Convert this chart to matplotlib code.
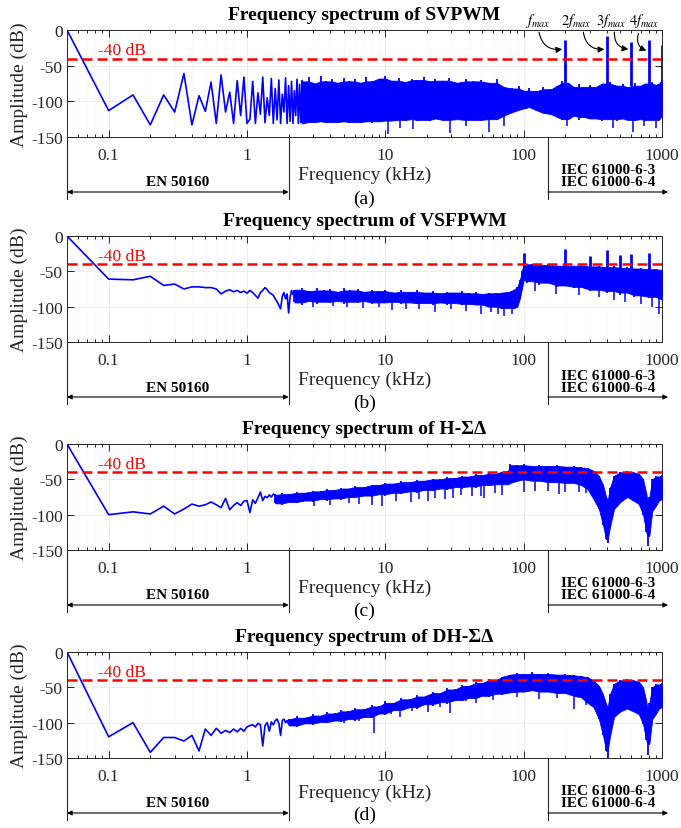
import matplotlib
matplotlib.use('Agg')
import numpy as np
import matplotlib.pyplot as plt
import matplotlib.transforms as mtransforms
from matplotlib.ticker import LogLocator, NullFormatter

plt.rcParams['font.family'] = ['Liberation Serif', 'DejaVu Serif']
plt.rcParams['mathtext.fontset'] = 'stix'
plt.rcParams['axes.unicode_minus'] = False

# ---------------- data (frequency in kHz, amplitude in dB) ----------------
titles = ['Frequency spectrum of SVPWM', 'Frequency spectrum of VSFPWM',
          'Frequency spectrum of H-\u03a3\u0394', 'Frequency spectrum of DH-\u03a3\u0394']
sublabels = ['(a)', '(b)', '(c)', '(d)']
xtick_vals = [0.1, 1, 10, 100, 1000]
xtick_labels = ['0.1', '1', '10', '100', '1000']
ytick_vals = [-150, -100, -50, 0]
limit_db = -40

# Panel (a) SVPWM: discrete low-frequency lines
a_lf_f = [0.05, 0.10, 0.15, 0.20, 0.25, 0.30, 0.35, 0.40, 0.45, 0.50, 0.55, 0.60, 0.65, 0.70,
          0.75, 0.80, 0.85, 0.90, 0.95, 1.00, 1.05, 1.10, 1.15, 1.20, 1.25, 1.30, 1.35, 1.40,
          1.45, 1.50, 1.55, 1.60, 1.65, 1.70, 1.75, 1.80, 1.85, 1.90, 1.95, 2.00, 2.05, 2.10,
          2.15, 2.20, 2.25, 2.30, 2.35, 2.40, 2.45, 2.50]
a_lf_db = [0, -113, -91, -133, -91, -115, -61, -133, -92, -114, -73, -131, -63, -115,
           -87, -131, -71, -120, -66, -131, -125, -72, -131, -88, -118, -66, -130, -95,
           -120, -68, -131, -82, -126, -70, -131, -90, -115, -67, -131, -78, -128, -72,
           -131, -85, -120, -69, -131, -76, -130, -71]
# Panel (a) dense band envelope
a_band_f = [2.5, 2.8, 3.1, 3.4, 3.7, 4.1, 4.5, 5.0, 5.5, 6.0,
            6.6, 7.3, 8.0, 9.0, 10, 11, 12.5, 14, 15.5, 17,
            19, 21, 23, 26, 29, 33, 38, 43, 49, 56,
            64, 72, 83, 92, 100, 110, 122, 138, 158, 175,
            190, 210, 230, 250, 275, 300, 330, 370, 420, 470,
            520, 560, 640, 700, 750, 850, 900, 950, 1000]
a_band_hi = [-72, -66, -75, -64, -72, -68, -74, -67, -72, -69,
             -74, -66, -72, -68, -65, -71, -67, -73, -68, -70,
             -66, -72, -68, -71, -67, -74, -69, -72, -70, -74,
             -69, -80, -82, -79, -85, -82, -86, -80, -83, -78,
             -72, -74, -80, -76, -80, -77, -80, -75, -73, -78,
             -76, -80, -74, -78, -75, -73, -77, -75, -70]
a_band_lo = [-131, -129, -131, -128, -131, -129, -131, -128, -131, -129,
             -130, -128, -131, -128, -127, -128, -126, -128, -125, -127,
             -126, -128, -124, -127, -126, -125, -127, -126, -128, -125,
             -126, -120, -115, -112, -110, -108, -112, -116, -118, -122,
             -126, -125, -120, -126, -122, -125, -124, -127, -125, -127,
             -124, -126, -128, -125, -127, -126, -128, -126, -120]
a_spike_f = [200, 400, 600, 800, 995]
a_spike_db = [-14, -9, -17, -14, -21]
a_down_f = [10.4, 12.7, 15.9, 29.4, 38, 56, 72.6, 205, 445, 615, 746, 907]
a_down_db = [-146, -137, -139, -145, -134, -143, -134, -134, -137, -143, -134, -137]

# Panel (b) VSFPWM
b_lf_f = [0.05, 0.10, 0.15, 0.20, 0.25, 0.30, 0.35, 0.40, 0.45, 0.50, 0.55, 0.60, 0.65, 0.70,
          0.75, 0.80, 0.85, 0.90, 0.95, 1.00, 1.05, 1.10, 1.15, 1.20, 1.25, 1.30, 1.35, 1.40,
          1.45, 1.50, 1.55, 1.60, 1.65, 1.70, 1.75, 1.80, 1.85, 1.90, 1.95, 2.00, 2.05, 2.10,
          2.15, 2.20]
b_lf_db = [0, -61, -62, -57, -70, -68, -75, -72, -72, -73, -73, -75, -82, -78,
           -76, -79, -77, -80, -78, -81, -77, -80, -84, -88, -80, -77, -73, -76,
           -80, -82, -84, -89, -93, -98, -103, -85, -80, -89, -82, -109, -86, -77,
           -83, -78]
b_band_f = [2.2, 2.5, 2.8, 3.2, 3.6, 4.0, 4.5, 5.0, 5.6, 6.3,
            7.0, 8.0, 9.0, 10, 11.5, 13, 15, 17, 19, 22,
            25, 28, 32, 36, 40, 45, 50, 56, 63, 70,
            78, 85, 90, 94, 97, 100, 105, 115, 130, 150,
            175, 200, 230, 260, 300, 350, 400, 450, 500, 560,
            630, 700, 800, 900, 1000]
b_band_hi = [-76, -74, -78, -73, -77, -75, -79, -74, -77, -75,
             -79, -76, -78, -77, -80, -76, -79, -77, -80, -78,
             -81, -79, -80, -78, -81, -79, -82, -80, -81, -80,
             -79, -76, -72, -62, -50, -38, -40, -39, -41, -40,
             -42, -41, -42, -41, -43, -42, -44, -43, -45, -44,
             -46, -45, -47, -46, -48]
b_band_lo = [-94, -98, -92, -96, -93, -95, -92, -96, -93, -95,
             -92, -96, -94, -95, -93, -96, -94, -96, -95, -97,
             -94, -98, -95, -97, -96, -98, -97, -100, -100, -103,
             -102, -104, -100, -88, -75, -62, -66, -64, -70, -66,
             -72, -70, -74, -72, -78, -76, -80, -78, -84, -80,
             -86, -84, -88, -86, -90]
b_spike_f = [100, 200, 300, 400, 500, 600, 800]
b_spike_db = [-24, -19, -28, -20, -27, -26, -24]
b_down_f = [3.0, 4.2, 5.3, 6.9, 9.0, 11.2, 14, 17.5, 22.7, 30, 38, 49, 58, 65, 72.6, 83,
            120, 170, 250, 350, 450, 540, 700, 850, 955]
b_down_db = [-100, -99, -100, -102, -101, -105, -103, -104, -108, -104, -106, -111, -107,
             -110, -113, -110, -78, -82, -84, -86, -90, -94, -96, -100, -111]

# Panel (c) H-SigmaDelta
c_lf_f = [0.05, 0.10, 0.15, 0.20, 0.25, 0.30, 0.35, 0.40, 0.45, 0.50, 0.55, 0.60, 0.65, 0.70,
          0.75, 0.80, 0.85, 0.90, 0.95, 1.00, 1.05, 1.10, 1.15, 1.20, 1.25, 1.30, 1.35, 1.40,
          1.45, 1.50, 1.55, 1.60]
c_lf_db = [0, -100, -96, -99, -88, -99, -92, -85, -88, -86, -82, -86, -90, -77,
           -93, -87, -83, -87, -81, -80, -97, -79, -84, -76, -68, -80, -74, -76,
           -72, -75, -71, -72]
c_band_f = [1.6, 1.8, 2.0, 2.3, 2.6, 3.0, 3.4, 3.8, 4.3, 4.8,
            5.4, 6.0, 7.0, 8.0, 9.0, 10, 11.5, 13, 15, 17,
            19, 22, 25, 28, 32, 36, 40, 45, 50, 56,
            63, 70, 77, 80, 90, 100, 115, 130, 150, 175,
            200, 230, 260, 290, 320, 350, 375, 395, 405, 420,
            450, 500, 560, 620, 680, 730, 770, 790, 810, 850,
            900, 950, 1000]
c_band_hi = [-72, -70, -71, -68, -69, -66, -67, -64, -65, -62,
             -63, -60, -61, -58, -58, -55, -56, -53, -54, -51,
             -52, -49, -50, -47, -48, -45, -46, -43, -44, -41,
             -42, -39, -38, -28, -30, -29, -31, -30, -31, -30,
             -32, -31, -33, -34, -38, -45, -58, -75, -80, -62,
             -45, -40, -38, -40, -42, -50, -70, -85, -75, -50,
             -45, -46, -44]
c_band_lo = [-84, -86, -82, -84, -80, -82, -78, -80, -77, -79,
             -75, -77, -73, -75, -71, -73, -69, -71, -67, -69,
             -65, -67, -63, -65, -61, -63, -60, -62, -58, -60,
             -57, -58, -57, -55, -52, -50, -53, -52, -55, -54,
             -56, -55, -58, -64, -78, -92, -115, -135, -140, -118,
             -92, -82, -75, -80, -85, -100, -125, -145, -130, -95,
             -88, -80, -78]
c_down_f = [3.05, 4.0, 5.5, 6.5, 8.05, 9.5, 12, 15.4, 17.5, 20.3, 23, 26.8, 30.6, 35, 42,
            49, 52, 62, 70, 100, 120, 150, 180, 200, 250, 280]
c_down_db = [-88, -86, -84, -85, -86, -88, -80, -82, -78, -80, -76, -78, -77, -72, -74,
             -74, -76, -70, -72, -68, -66, -66, -71, -68, -68, -70]

# Panel (d) DH-SigmaDelta
d_lf_f = [0.05, 0.10, 0.15, 0.20, 0.25, 0.30, 0.35, 0.40, 0.45, 0.50, 0.55, 0.60, 0.65, 0.70,
          0.75, 0.80, 0.85, 0.90, 0.95, 1.00, 1.05, 1.10, 1.15, 1.20, 1.25, 1.30, 1.35, 1.40,
          1.45, 1.50, 1.55, 1.60, 1.65, 1.70, 1.75, 1.80, 1.85, 1.90, 1.95, 2.00]
d_lf_db = [0, -120, -100, -142, -121, -121, -126, -118, -140, -109, -118, -108, -115, -111,
           -114, -109, -113, -108, -112, -106, -104, -103, -106, -101, -103, -133, -104, -100,
           -112, -99, -103, -97, -95, -101, -118, -97, -95, -100, -97, -102]
d_band_f = [2.0, 2.3, 2.6, 3.0, 3.4, 3.8, 4.3, 4.8, 5.4, 6.0,
            7.0, 8.0, 9.0, 10, 11.5, 13, 15, 17, 19, 22,
            25, 28, 32, 36, 40, 45, 50, 56, 63, 70,
            80, 90, 100, 115, 130, 150, 175, 200, 230, 260,
            290, 320, 350, 375, 395, 405, 420, 450, 500, 560,
            620, 680, 730, 770, 790, 810, 850, 900, 950, 1000]
d_band_hi = [-95, -91, -93, -88, -90, -85, -87, -82, -84, -79,
             -81, -75, -77, -70, -72, -65, -67, -61, -63, -56,
             -58, -51, -53, -46, -48, -42, -44, -38, -40, -35,
             -32, -30, -31, -29, -31, -30, -32, -31, -33, -34,
             -36, -40, -48, -60, -74, -78, -60, -45, -40, -38,
             -40, -42, -50, -70, -85, -72, -50, -45, -46, -44]
d_band_lo = [-104, -106, -101, -103, -99, -101, -97, -99, -95, -97,
             -92, -94, -87, -89, -82, -84, -78, -80, -74, -76,
             -71, -73, -68, -70, -65, -67, -62, -64, -59, -61,
             -57, -56, -56, -54, -56, -56, -58, -58, -62, -64,
             -72, -78, -95, -118, -140, -150, -120, -92, -84, -80,
             -84, -88, -102, -125, -146, -130, -95, -88, -80, -78]
d_down_f = [5.0, 6.5, 8.3, 11, 12.7, 15.5, 20.3, 25, 29.4, 38, 45, 60, 90, 130, 175, 233, 280]
d_down_db = [-100, -98, -115, -88, -92, -84, -85, -78, -87, -69, -72, -68, -64, -66, -65,
             -80, -75]

fmax_labels = [r'$f_{max}$', r'$2f_{max}$', r'$3f_{max}$', r'$4f_{max}$']
fmax_text_f = [127, 240, 430, 746]
fmax_arrow_start = [(129, -3), (270, -3), (453, -3), (675, -5)]
fmax_arrow_end = [(190, -27), (383, -27), (571, -27), (771, -29)]

panels = [
    (a_lf_f, a_lf_db, a_band_f, a_band_hi, a_band_lo, a_spike_f, a_spike_db, a_down_f, a_down_db),
    (b_lf_f, b_lf_db, b_band_f, b_band_hi, b_band_lo, b_spike_f, b_spike_db, b_down_f, b_down_db),
    (c_lf_f, c_lf_db, c_band_f, c_band_hi, c_band_lo, [], [], c_down_f, c_down_db),
    (d_lf_f, d_lf_db, d_band_f, d_band_hi, d_band_lo, [], [], d_down_f, d_down_db),
]


def core_envelope(vals, upper):
    """Trim isolated local extremes so they are drawn as vertical spikes."""
    v = np.asarray(vals, dtype=float)
    out = v.copy()
    for k in range(1, len(v) - 1):
        if upper and v[k] > v[k - 1] and v[k] > v[k + 1]:
            out[k] = max(v[k - 1], v[k + 1])
        if (not upper) and v[k] < v[k - 1] and v[k] < v[k + 1]:
            out[k] = min(v[k - 1], v[k + 1])
    return out


# ---------------- figure ----------------
W, H = 681, 829
fig = plt.figure(figsize=(W / 100, H / 100), dpi=100)
tops = [31, 237, 445, 653]
bots = [138, 343, 551, 759]
xlab_off = [37, 37, 37, 34]
sub_off = [61, 60, 60, 56]
BLUE = '#0000ff'
AXC = '#262626'

for i, (lf_f, lf_db, bf, bhi, blo, sf, sdb, df, ddb) in enumerate(panels):
    hpx = bots[i] - tops[i]
    ax = fig.add_axes([67 / W, 1 - bots[i] / H, 595 / W, hpx / H])
    ax.set_xscale('log')
    ax.set_xlim(0.05, 1000)
    ax.set_ylim(-150, 0)
    ax.set_xticks(xtick_vals)
    ax.set_xticklabels(xtick_labels)
    ax.xaxis.set_minor_locator(LogLocator(base=10, subs=np.arange(2, 10) * 1.0, numticks=50))
    ax.xaxis.set_minor_formatter(NullFormatter())
    ax.set_yticks(ytick_vals)
    ax.set_yticklabels([str(v) for v in ytick_vals])
    ax.tick_params(which='both', direction='in', top=True, right=True, colors=AXC,
                   labelsize=12.5, width=0.7)
    ax.tick_params(which='major', length=5)
    ax.tick_params(which='minor', length=2.5)
    ax.tick_params(axis='x', pad=7)
    ax.tick_params(axis='y', pad=3)
    for s in ax.spines.values():
        s.set_color(AXC)
        s.set_linewidth(0.7)
    ax.grid(True, which='major', color='#e4e4e4', lw=0.5)
    ax.grid(True, which='minor', axis='x', color='#ececec', lw=0.5, ls=':')
    ax.set_axisbelow(True)
    ax.set_ylabel('Amplitude (dB)', fontsize=14, color=AXC, labelpad=2)

    # spectrum
    ax.plot(lf_f, lf_db, color=BLUE, lw=1.2, zorder=3)
    core_hi = core_envelope(bhi, True)
    core_lo = core_envelope(blo, False)
    ax.fill_between(bf, core_lo, core_hi, color=BLUE, lw=0.6, edgecolor=BLUE, zorder=3)
    ax.vlines(bf, blo, bhi, color=BLUE, lw=1.3, zorder=3)
    if sf:
        base = np.interp(np.log10(sf), np.log10(bf), core_hi)
        ax.vlines(sf, base, sdb, color=BLUE, lw=2.0, zorder=3)
    if df:
        top = np.interp(np.log10(df), np.log10(bf), core_lo) + 4
        ax.vlines(df, top, ddb, color=BLUE, lw=1.1, zorder=3)

    # -40 dB limit
    ax.axhline(limit_db, color='#ff0000', lw=1.8, dashes=(4, 2), zorder=4)
    ax.text(0.084, -28, '-40 dB', color='#ff0000', fontsize=12.5, ha='left', va='center',
            zorder=5)

    # titles and labels
    ax.text(0.5, 1 + 15 / hpx, titles[i], transform=ax.transAxes, ha='center', va='center',
            fontsize=14, fontweight='bold', color='black')
    ax.text(0.5, -xlab_off[i] / hpx, 'Frequency (kHz)', transform=ax.transAxes, ha='center',
            va='center', fontsize=14, color=AXC)
    ax.text(0.5, -sub_off[i] / hpx, sublabels[i], transform=ax.transAxes, ha='center',
            va='center', fontsize=14, color='black')

    # standard brackets
    tr = mtransforms.blended_transform_factory(ax.transData, ax.transAxes)
    ybot = -62 / hpx
    yarr = -55 / hpx
    for xv in [0.05, 2, 150]:
        ax.plot([xv, xv], [0, ybot], transform=tr, clip_on=False, color=AXC, lw=0.8)
    ax.annotate('', xy=(0.05, yarr), xytext=(2, yarr), xycoords=tr, textcoords=tr,
                arrowprops=dict(arrowstyle='<|-|>', color='black', lw=0.8, mutation_scale=7,
                                shrinkA=0, shrinkB=0), annotation_clip=False)
    ax.annotate('', xy=(1105, yarr), xytext=(150, yarr), xycoords=tr, textcoords=tr,
                arrowprops=dict(arrowstyle='-|>', color='black', lw=0.8, mutation_scale=7,
                                shrinkA=0, shrinkB=0), annotation_clip=False)
    ax.text(0.316, -45 / hpx, 'EN 50160', transform=tr, ha='center', va='center',
            fontsize=11, fontweight='bold')
    ax.text(410, -33 / hpx, 'IEC 61000-6-3', transform=tr, ha='center', va='center',
            fontsize=11, fontweight='bold')
    ax.text(410, -45 / hpx, 'IEC 61000-6-4', transform=tr, ha='center', va='center',
            fontsize=11, fontweight='bold')

    if i == 0:
        for lab, tf, st, en in zip(fmax_labels, fmax_text_f, fmax_arrow_start, fmax_arrow_end):
            ax.text(tf, 1 + 1 / hpx, lab, transform=tr, ha='center', va='bottom',
                    fontsize=10.5, color='black')
            ax.annotate('', xy=en, xytext=st,
                        arrowprops=dict(arrowstyle='-|>', color='black', lw=0.8,
                                        mutation_scale=9, shrinkA=0, shrinkB=0,
                                        connectionstyle='arc3,rad=0.45'),
                        annotation_clip=False, zorder=6)

fig.savefig('out.png', dpi=100)
